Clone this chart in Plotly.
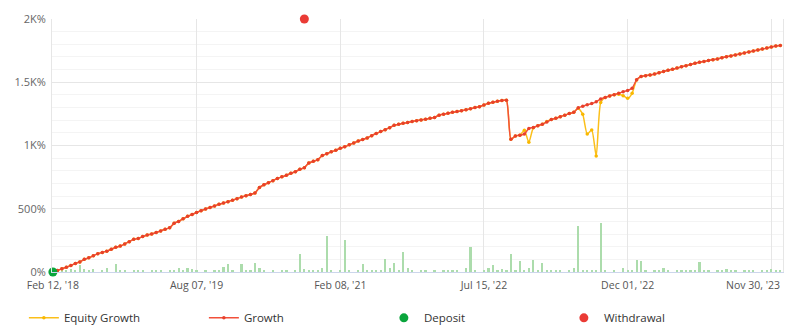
import plotly.graph_objects as go

# ---------------- data ----------------
tick_idx = [0, 32, 64, 96, 128, 160]
tick_labels = ["Feb 12, '18", "Aug 07, '19", "Feb 08, '21", "Jul 15, '22", "Dec 01, '22", "Nov 30, '23"]

growth = [
    0, 12, 25, 38, 52, 68, 80, 100, 112, 128,
    145, 155, 165, 180, 195, 205, 222, 240, 258, 265,
    280, 292, 300, 312, 325, 338, 350, 385, 400, 420,
    440, 455, 470, 485, 498, 510, 522, 535, 545, 556,
    568, 580, 592, 603, 612, 625, 668, 690, 705, 722,
    740, 752, 765, 780, 793, 812, 825, 862, 875, 888,
    920, 935, 950, 962, 978, 990, 1005, 1020, 1035, 1048,
    1060, 1078, 1095, 1110, 1125, 1141, 1160, 1168, 1175, 1182,
    1190, 1196, 1202, 1208, 1215, 1222, 1240, 1248, 1255, 1262,
    1268, 1275, 1282, 1290, 1300, 1307, 1320, 1334, 1342, 1350,
    1355, 1358, 1050, 1075, 1082, 1090, 1135, 1142, 1157, 1168,
    1185, 1205, 1215, 1228, 1240, 1252, 1262, 1298, 1310, 1322,
    1332, 1345, 1368, 1380, 1392, 1402, 1413, 1425, 1435, 1452,
    1520, 1545, 1552, 1558, 1565, 1575, 1585, 1595, 1603, 1612,
    1622, 1631, 1640, 1650, 1658, 1665, 1672, 1678, 1684, 1694,
    1702, 1708, 1715, 1724, 1732, 1740, 1747, 1755, 1762, 1770,
    1778, 1786, 1790,
]

equity = [
    0, 12, 25, 38, 52, 68, 80, 100, 112, 128,
    145, 155, 165, 180, 195, 205, 222, 240, 258, 265,
    280, 292, 300, 312, 325, 338, 350, 385, 400, 420,
    440, 455, 470, 485, 498, 510, 522, 535, 545, 556,
    568, 580, 592, 603, 612, 625, 668, 690, 705, 722,
    740, 752, 765, 780, 793, 812, 825, 862, 875, 888,
    920, 935, 950, 962, 978, 990, 1005, 1020, 1035, 1048,
    1060, 1078, 1095, 1110, 1125, 1141, 1160, 1168, 1175, 1182,
    1190, 1196, 1202, 1208, 1215, 1222, 1240, 1248, 1255, 1262,
    1268, 1275, 1282, 1290, 1300, 1307, 1320, 1334, 1342, 1350,
    1355, 1358, 1050, 1075, 1082, 1120, 1025, 1140, 1157, 1168,
    1190, 1205, 1215, 1228, 1240, 1252, 1262, 1294, 1247, 1091,
    1123, 917, 1340, 1380, 1392, 1402, 1405, 1394, 1373, 1413,
    1518, 1545, 1552, 1558, 1565, 1575, 1585, 1595, 1603, 1612,
    1622, 1631, 1640, 1650, 1658, 1665, 1672, 1678, 1684, 1694,
    1702, 1708, 1715, 1724, 1732, 1740, 1747, 1755, 1762, 1770,
    1778, 1786, 1790,
]

bars = [
    0, 8, 30, 8, 25, 15, 53, 25, 10, 25,
    0, 8, 30, 0, 60, 10, 8, 0, 15, 15,
    8, 0, 15, 8, 15, 0, 15, 8, 30, 15,
    35, 25, 8, 0, 8, 0, 8, 15, 40, 60,
    8, 0, 65, 10, 8, 75, 30, 8, 0, 8,
    0, 15, 8, 0, 8, 145, 25, 8, 12, 12,
    30, 285, 8, 0, 8, 253, 8, 0, 8, 63,
    15, 8, 15, 15, 100, 30, 69, 8, 155, 35,
    8, 0, 10, 8, 0, 8, 0, 15, 12, 12,
    8, 0, 30, 195, 8, 0, 15, 30, 55, 8,
    20, 8, 142, 12, 87, 8, 30, 95, 8, 70,
    15, 15, 10, 8, 0, 8, 35, 364, 8, 10,
    12, 8, 385, 8, 0, 8, 0, 30, 10, 15,
    95, 85, 8, 0, 8, 15, 35, 8, 0, 8,
    10, 8, 15, 8, 80, 15, 8, 0, 8, 10,
    25, 12, 8, 0, 10, 10, 8, 0, 8, 10,
    20, 12, 8,
]

deposit_idx = [0]
deposit_val = [0]
withdrawal_idx = [56]
withdrawal_val = [2000]

y_tickvals = [0, 500, 1000, 1500, 2000]
y_ticktext = ["0%", "500%", "1K%", "1.5K%", "2K%"]

x = list(range(len(growth)))

# ---------------- figure ----------------
fig = go.Figure()

fig.add_trace(go.Bar(
    x=x, y=bars, width=0.5, marker=dict(color="#acdcac", line=dict(width=0)),
    showlegend=False, hoverinfo="skip",
))

fig.add_trace(go.Scatter(
    x=x, y=equity, name="Equity Growth", mode="lines+markers",
    line=dict(color="#fbbf1a", width=1.5, shape="spline", smoothing=0.6),
    marker=dict(color="#f9b800", size=3.5),
))

fig.add_trace(go.Scatter(
    x=x, y=growth, name="Growth", mode="lines+markers",
    line=dict(color="#f2503a", width=1.5, shape="spline", smoothing=0.6),
    marker=dict(color="#e8402c", size=3.5),
))

fig.add_trace(go.Scatter(
    x=deposit_idx, y=deposit_val, name="Deposit", mode="markers",
    marker=dict(color="#0aa53c", size=9), cliponaxis=False,
))

fig.add_trace(go.Scatter(
    x=withdrawal_idx, y=withdrawal_val, name="Withdrawal", mode="markers",
    marker=dict(color="#ea3b35", size=9), cliponaxis=False,
))

# last tick label is shifted left so that it stays inside the chart (as in the reference)
shown_labels = tick_labels[:-1] + [""]
fig.add_annotation(
    x=162.4, xref="x", y=0, yref="paper", yshift=-13,
    text=tick_labels[-1], showarrow=False, xanchor="right", yanchor="middle",
    font=dict(family="Open Sans, DejaVu Sans, sans-serif", size=10.5, color="#555555"),
)

fig.update_layout(
    width=796, height=336,
    margin=dict(l=52, r=13, t=19, b=64, autoexpand=False),
    paper_bgcolor="white", plot_bgcolor="white",
    font=dict(family="Open Sans, DejaVu Sans, sans-serif", size=11, color="#555555"),
    bargap=0,
    showlegend=True,
    legend=dict(
        orientation="h", xref="container", yref="container",
        x=0.03, y=0.054, xanchor="left", yanchor="middle",
        entrywidth=135, entrywidthmode="pixels",
        font=dict(size=11.5, color="#333333"),
    ),
    xaxis=dict(
        range=[-0.2, 162.6],
        tickmode="array", tickvals=tick_idx, ticktext=shown_labels,
        showgrid=True, gridcolor="#e6e6e6", gridwidth=1,
        showline=True, linecolor="#ccd6eb", linewidth=1,
        ticks="", zeroline=False, ticklabelstandoff=3,
        tickfont=dict(size=10.5, color="#555555"),
    ),
    yaxis=dict(
        range=[0, 2000],
        tickmode="array", tickvals=y_tickvals, ticktext=y_ticktext,
        showgrid=True, gridcolor="#e6e6e6", gridwidth=1,
        minor=dict(dtick=100, tick0=0, showgrid=True, gridcolor="#f4f4f4", gridwidth=1),
        showline=True, mirror=True, linecolor="#e6e6e6", linewidth=1,
        ticks="", zeroline=False, ticklabelstandoff=3,
        tickfont=dict(size=11, color="#666666"),
    ),
)

fig.write_html("out.html")
